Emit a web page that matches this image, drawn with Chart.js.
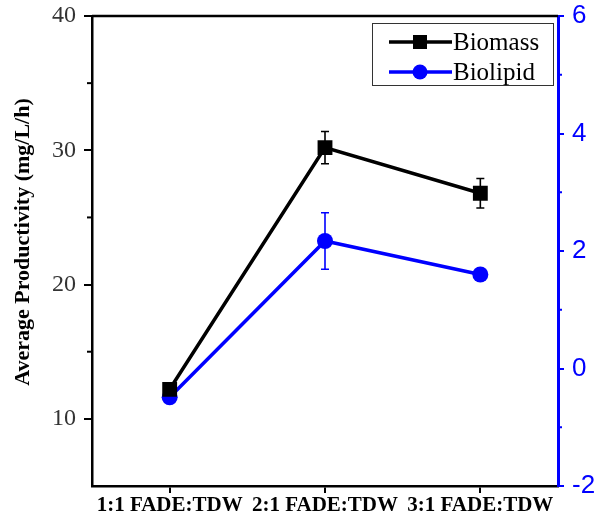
<!DOCTYPE html>
<html>
<head>
<meta charset="utf-8">
<script src="https://cdn.jsdelivr.net/npm/chart.js@4"></script>
<style>
  html, body { margin: 0; padding: 0; background: #fff; }
  #wrap { width: 598px; height: 516px; }
</style>
</head>
<body>
<div id="wrap"><canvas id="chart"></canvas></div>
<script>
// data
const categories = ['1:1 FADE:TDW', '2:1 FADE:TDW', '3:1 FADE:TDW'];
const biomass = [12.2, 30.2, 26.8];
const biomassErr = [0, 1.2, 1.1];
const biolipid = [-0.49, 2.17, 1.6];
const biolipidErr = [0, 0.48, 0];
const leftTicks = [10, 20, 30, 40];
const leftMinor = [15, 25, 35];
const rightTicks = [-2, 0, 2, 4, 6];
const rightMinor = [-1, 1, 3, 5];

const BLUE = '#0000ff';
const SERIF = "'Liberation Serif', 'Times New Roman', serif";

// drop the label-overflow padding so the plot box sits where the reference has it
function noPad(s) { s.paddingTop = 0; s.paddingBottom = 0; s.paddingLeft = 0; s.paddingRight = 0; }

// error bars, frame, minor ticks, legend and y title
const extras = {
  id: 'extras',
  beforeDatasetsDraw(chart) {
    const ctx = chart.ctx;
    const x = chart.scales.x;
    chart.data.datasets.forEach(ds => {
      const ys = chart.scales[ds.yAxisID];
      ctx.save();
      ctx.strokeStyle = ds.borderColor;
      ctx.lineWidth = 1.6;
      ds.data.forEach((v, i) => {
        const e = ds.errors[i];
        if (!e) return;
        const px = x.getPixelForValue(i);
        const top = ys.getPixelForValue(v + e);
        const bot = ys.getPixelForValue(v - e);
        ctx.beginPath();
        ctx.moveTo(px, top); ctx.lineTo(px, bot);
        ctx.moveTo(px - 4, top); ctx.lineTo(px + 4, top);
        ctx.moveTo(px - 4, bot); ctx.lineTo(px + 4, bot);
        ctx.stroke();
      });
      ctx.restore();
    });
  },
  afterDraw(chart) {
    const ctx = chart.ctx;
    const a = chart.chartArea;
    const yl = chart.scales.y, yr = chart.scales.y1;
    ctx.save();
    // top frame line
    ctx.strokeStyle = '#000';
    ctx.lineWidth = 2.5;
    ctx.beginPath();
    ctx.moveTo(a.left, a.top); ctx.lineTo(a.right, a.top);
    ctx.stroke();
    // minor ticks
    ctx.lineWidth = 2;
    leftMinor.forEach(v => {
      const py = yl.getPixelForValue(v);
      ctx.beginPath(); ctx.moveTo(a.left - 5, py); ctx.lineTo(a.left, py); ctx.stroke();
    });
    ctx.strokeStyle = BLUE;
    rightMinor.forEach(v => {
      const py = yr.getPixelForValue(v);
      ctx.beginPath(); ctx.moveTo(a.right, py); ctx.lineTo(a.right + 4, py); ctx.stroke();
    });
    // y title
    ctx.fillStyle = '#000';
    ctx.font = 'bold 22px ' + SERIF;
    ctx.textAlign = 'center';
    ctx.textBaseline = 'middle';
    ctx.translate(23, 242);
    ctx.rotate(-Math.PI / 2);
    ctx.fillText('Average Productivity (mg/L/h)', 0, 0);
    ctx.restore();

    // legend
    ctx.save();
    const bx = 372, by = 23, bw = 181, bh = 62;
    ctx.fillStyle = '#fff';
    ctx.fillRect(bx, by, bw, bh);
    ctx.strokeStyle = '#333';
    ctx.lineWidth = 1;
    ctx.strokeRect(bx + 0.5, by + 0.5, bw, bh);
    ctx.font = '25px ' + SERIF;
    ctx.textBaseline = 'middle';
    chart.data.datasets.forEach((ds, i) => {
      const ly = 42 + i * 30;
      ctx.strokeStyle = ds.borderColor;
      ctx.lineWidth = 3.5;
      ctx.beginPath(); ctx.moveTo(389, ly); ctx.lineTo(452, ly); ctx.stroke();
      ctx.fillStyle = ds.borderColor;
      if (ds.pointStyle === 'rect') {
        ctx.fillRect(420 - 7, ly - 7, 14, 14);
      } else {
        ctx.beginPath(); ctx.arc(420, ly, 7.5, 0, Math.PI * 2); ctx.fill();
      }
      ctx.fillStyle = '#000';
      ctx.fillText(ds.label, 453, ly + 1);
    });
    ctx.restore();
  }
};

new Chart(document.getElementById('chart'), {
  type: 'line',
  data: {
    labels: categories,
    datasets: [
      {
        label: 'Biomass',
        data: biomass,
        errors: biomassErr,
        yAxisID: 'y',
        borderColor: '#000',
        backgroundColor: '#000',
        borderWidth: 3.5,
        pointStyle: 'rect',
        pointRadius: 10.5,
        pointHoverRadius: 10.5,
        pointBorderWidth: 0
      },
      {
        label: 'Biolipid',
        data: biolipid,
        errors: biolipidErr,
        yAxisID: 'y1',
        borderColor: BLUE,
        backgroundColor: BLUE,
        borderWidth: 3.5,
        pointStyle: 'circle',
        pointRadius: 8,
        pointHoverRadius: 8,
        pointBorderWidth: 0
      }
    ]
  },
  options: {
    responsive: true,
    maintainAspectRatio: false,
    animation: false,
    layout: { padding: { top: 16, left: 0, right: 0, bottom: 0 } },
    plugins: { legend: { display: false }, tooltip: { enabled: false } },
    scales: {
      x: {
        type: 'category',
        offset: true,
        afterFit: s => { s.height = 30; noPad(s); },
        grid: { offset: false, drawOnChartArea: false, tickLength: 7, color: '#000', lineWidth: 2 },
        border: { color: '#000', width: 2.5 },
        ticks: { color: '#000', padding: 0, maxRotation: 0, font: { family: SERIF, size: 21, weight: 'bold' } }
      },
      y: {
        position: 'left',
        min: 5,
        max: 40,
        afterBuildTicks: s => { s.ticks = leftTicks.map(v => ({ value: v })); },
        afterFit: s => { s.width = 92; noPad(s); },
        grid: { drawOnChartArea: false, tickLength: 8, color: '#000', lineWidth: 2 },
        border: { color: '#000', width: 2.5 },
        ticks: { color: '#333', padding: 8, font: { family: SERIF, size: 24 } }
      },
      y1: {
        position: 'right',
        min: -2,
        max: 6,
        afterBuildTicks: s => { s.ticks = rightTicks.map(v => ({ value: v })); },
        afterFit: s => { s.width = 40; noPad(s); },
        grid: { drawOnChartArea: false, tickLength: 6, color: BLUE, lineWidth: 2 },
        border: { color: BLUE, width: 3 },
        ticks: { color: BLUE, padding: 8, font: { family: "'Liberation Sans', Arial, sans-serif", size: 26 } }
      }
    }
  },
  plugins: [extras]
});
</script>
</body>
</html>
